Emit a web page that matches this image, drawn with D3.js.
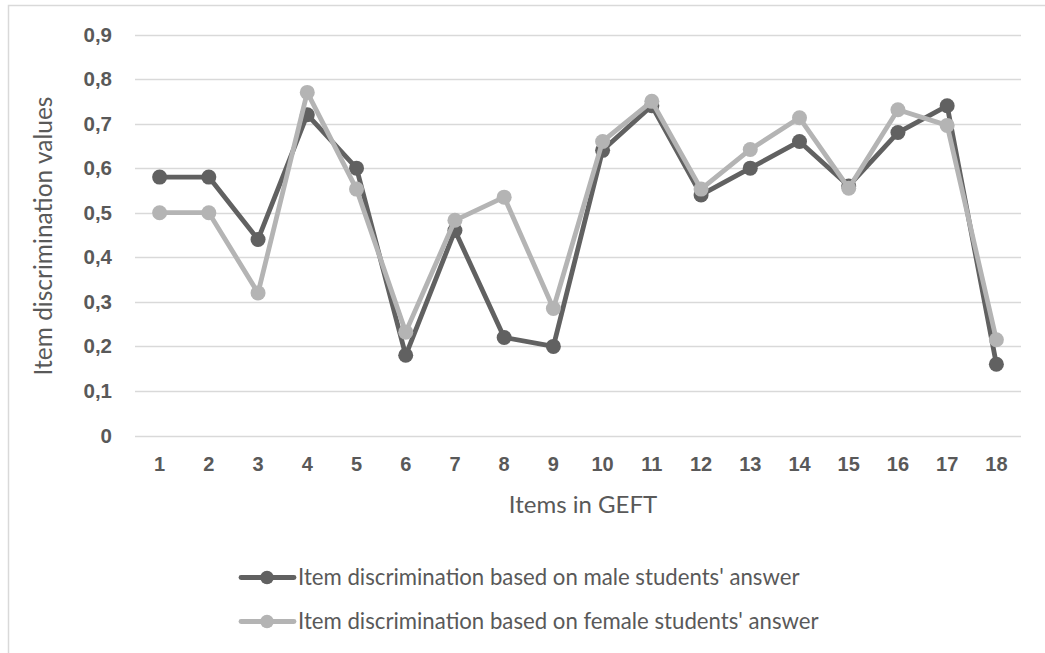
<!DOCTYPE html>
<html><head><meta charset="utf-8">
<script src="https://cdn.jsdelivr.net/npm/d3@7"></script>
<style>body{margin:0;background:#fff;} svg{display:block;font-family:Lato,"Open Sans",sans-serif;}</style>
</head><body>
<svg id="c" width="1045" height="653"></svg>
<script>
const items = ["1","2","3","4","5","6","7","8","9","10","11","12","13","14","15","16","17","18"];
const maleValues = [0.58,0.58,0.44,0.72,0.60,0.18,0.46,0.22,0.20,0.64,0.74,0.54,0.60,0.66,0.56,0.68,0.74,0.16];
const femaleValues = [0.50,0.50,0.32,0.77,0.553,0.232,0.483,0.535,0.285,0.66,0.75,0.553,0.642,0.713,0.555,0.731,0.696,0.215];
const yTicks = [0,0.1,0.2,0.3,0.4,0.5,0.6,0.7,0.8,0.9];
const seriesNames = ["Item discrimination based on male students' answer","Item discrimination based on female students' answer"];
const seriesColors = ["#616161","#b4b4b4"];
const xTitle = "Items in GEFT";
const yTitle = "Item discrimination values";

const svg = d3.select("#c");
const L = 135, R = 1021, T = 34.5, B = 435.5;
const x = d3.scaleBand().domain(items).range([L, R]);
const y = d3.scaleLinear().domain([0, 0.9]).range([B, T]);

// frame
svg.append("rect").attr("x",8.5).attr("y",5.5).attr("width",1045).attr("height",700)
  .attr("fill","none").attr("stroke","#d9d9d9").attr("stroke-width",1.5);

// gridlines
svg.append("g").selectAll("line").data(yTicks).join("line")
  .attr("x1",L).attr("x2",R).attr("y1",d=>Math.round(y(d))+0.5).attr("y2",d=>Math.round(y(d))+0.5)
  .attr("stroke","#d9d9d9").attr("stroke-width",1.5);

// y axis labels
const yAxis = d3.axisLeft(y).tickValues(yTicks).tickSize(0).tickPadding(0)
  .tickFormat(d => d===0 ? "0" : d3.format(".1f")(d).replace(".",","));
const yg = svg.append("g").attr("transform",`translate(112,0)`).call(yAxis);
yg.select(".domain").remove();
yg.selectAll("text").attr("fill","#595959").attr("font-size",20.5).attr("font-weight","bold");

// x axis labels
const xAxis = d3.axisBottom(x).tickSize(0).tickPadding(0);
const xg = svg.append("g").attr("transform",`translate(0,457)`).call(xAxis);
xg.select(".domain").remove();
xg.selectAll("text").attr("fill","#595959").attr("font-size",20).attr("font-weight","bold");

// titles
svg.append("text").attr("x",(L+R)/2+5).attr("y",513).attr("text-anchor","middle")
  .attr("fill","#595959").attr("font-size",24).text(xTitle);
svg.append("text").attr("transform","translate(52,236) rotate(-90)").attr("text-anchor","middle")
  .attr("fill","#595959").attr("font-size",24.5).text(yTitle);

// series
const series = [maleValues, femaleValues];
const line = d3.line().x((d,i)=>x(items[i])+x.bandwidth()/2).y(d=>y(d));
series.forEach((vals, si) => {
  const g = svg.append("g");
  g.append("path").datum(vals).attr("d",line).attr("fill","none")
    .attr("stroke",seriesColors[si]).attr("stroke-width",4.8).attr("stroke-linejoin","round");
  g.selectAll("circle").data(vals).join("circle")
    .attr("cx",(d,i)=>x(items[i])+x.bandwidth()/2).attr("cy",d=>y(d)).attr("r",7.5)
    .attr("fill",seriesColors[si]);
});

// legend
seriesNames.forEach((name, i) => {
  const ly = 577.5 + i*44;
  const g = svg.append("g");
  g.append("line").attr("x1",241).attr("x2",294).attr("y1",ly).attr("y2",ly)
    .attr("stroke",seriesColors[i]).attr("stroke-width",4.8).attr("stroke-linecap","round");
  g.append("circle").attr("cx",267).attr("cy",ly).attr("r",6.8).attr("fill",seriesColors[i]);
  g.append("text").attr("x",298).attr("y",ly+7.5).attr("fill","#595959").attr("font-size",22.2).text(name);
});
</script>
</body></html>
